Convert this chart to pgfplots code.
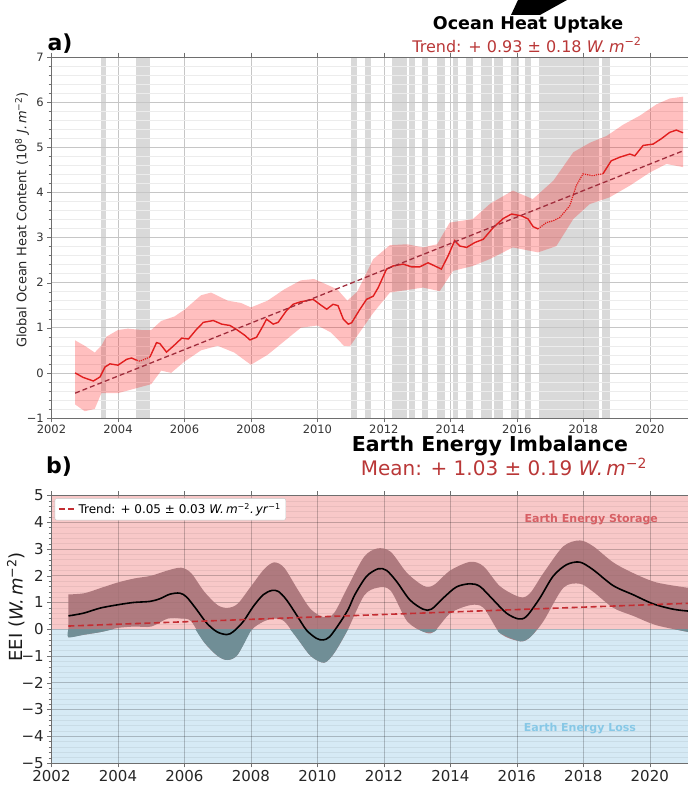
\documentclass[border=0pt]{standalone}
\usepackage{fontspec}
\setmainfont{DejaVu Sans}
\usepackage{pgfplots}
\pgfplotsset{compat=1.18}
\usepgfplotslibrary{fillbetween}
\definecolor{ohcred}{RGB}{225,30,30}
\definecolor{trendred}{RGB}{160,45,60}
\definecolor{eeitrend}{RGB}{195,45,50}
\definecolor{titlered}{RGB}{185,55,55}
\definecolor{storage}{RGB}{248,200,200}
\definecolor{loss}{RGB}{214,234,245}
\definecolor{bandup}{RGB}{165,112,117}
\definecolor{banddown}{RGB}{112,142,150}
\definecolor{spine}{RGB}{110,110,110}
\newcommand{\gap}[2]{\addplot[on layer=axis background, draw=none, fill=gray!30, forget plot] coordinates {(#1,-1) (#1,7) (#2,7) (#2,-1)} -- cycle;}
\newcommand{\wm}{\textit{W.\,m}\textsuperscript{−2}}
\begin{document}
\begin{tikzpicture}

% ---- panel a: ocean heat content
\begin{axis}[
    set layers,
    at={(51.5pt,367pt)}, anchor=south west, scale only axis,
    width=636.5pt, height=361pt,
    xmin=2002, xmax=2021.15, ymin=-1, ymax=7,
    xtick={2002,2004,...,2020}, ytick={-1,0,...,7},
    yticklabels={−1,0,1,2,3,4,5,6,7},
    minor x tick num=1, minor y tick num=4,
    grid=both,
    major grid style={gray!45, line width=0.5pt},
    minor grid style={gray!15, line width=0.4pt},
    tick align=outside, tick style={spine},
    axis line style={spine, line width=0.8pt},
    /pgf/number format/assume math mode=true,
    xticklabel style={/pgf/number format/1000 sep={}, yshift=1pt},
    tick label style={font=\fontsize{11.5}{12}\selectfont, text=black!80},
]
\gap{2003.49}{2003.64}
\gap{2004.54}{2004.96}
\gap{2011.01}{2011.19}
\gap{2011.43}{2011.61}
\gap{2012.24}{2012.69}
\gap{2012.75}{2012.93}
\gap{2013.14}{2013.33}
\gap{2013.59}{2013.83}
\gap{2014.07}{2014.23}
\gap{2014.47}{2014.68}
\gap{2014.92}{2015.25}
\gap{2015.31}{2015.58}
\gap{2015.82}{2016.06}
\gap{2016.24}{2016.42}
\gap{2016.66}{2018.47}
\gap{2018.56}{2018.79}

% uncertainty envelope (upper forward, lower backward)
\addplot[draw=none, fill=red, fill opacity=0.25, forget plot] coordinates {
 (2002.71,0.72) (2003.0,0.60) (2003.3,0.45) (2003.5,0.60) (2003.65,0.80)
 (2004.0,0.95) (2004.3,0.98) (2004.7,0.95) (2005.0,0.95) (2005.3,1.15)
 (2005.7,1.25) (2006.0,1.40) (2006.5,1.72) (2006.8,1.78) (2007.3,1.60)
 (2007.7,1.55) (2008.0,1.45) (2008.5,1.60) (2009.0,1.85) (2009.5,2.05)
 (2009.9,2.08) (2010.3,1.95) (2010.6,1.85) (2010.9,1.60) (2011.2,1.80)
 (2011.68,2.52) (2012.18,2.83) (2012.7,2.85) (2013.18,2.78) (2013.6,2.85)
 (2013.98,3.33) (2014.68,3.41) (2015.2,3.75) (2015.88,4.04) (2016.48,3.85)
 (2017.1,4.26) (2017.7,4.89) (2018.2,5.10) (2018.7,5.25) (2019.2,5.50)
 (2019.7,5.70) (2020.2,5.95) (2020.6,6.08) (2021.0,6.12)
 (2021.0,4.56) (2020.5,4.63) (2020.0,4.44) (2019.4,4.15) (2018.79,3.89)
 (2018.19,3.74) (2017.7,3.41) (2017.19,2.81) (2016.64,2.67) (2015.88,2.78)
 (2015.18,2.52) (2014.68,2.37) (2014.08,2.26) (2013.68,1.81) (2013.18,1.89)
 (2012.18,1.78) (2011.68,1.33) (2010.98,0.59) (2010.8,0.60) (2010.4,0.90)
 (2010.0,1.05) (2009.5,1.00) (2009.0,0.70) (2008.5,0.40) (2008.0,0.18)
 (2007.5,0.45) (2007.0,0.60) (2006.5,0.50) (2006.0,0.25) (2005.6,0.00)
 (2005.3,0.05) (2005.0,-0.25) (2004.5,-0.35) (2004.0,-0.45) (2003.5,-0.45)
 (2003.3,-0.80) (2003.0,-0.85) (2002.71,-0.70)
} -- cycle;

% dotted line through the gaps
\addplot[ohcred, densely dotted, line width=1.2pt, forget plot] coordinates {
 (2004.56,0.28) (2004.66,0.26) (2004.96,0.35)
};
\addplot[ohcred, densely dotted, line width=1.2pt, forget plot] coordinates {
 (2016.64,3.19) (2016.89,3.33) (2017.09,3.37) (2017.29,3.44) (2017.59,3.70)
 (2017.79,4.15) (2017.99,4.41) (2018.29,4.37) (2018.47,4.40) (2018.59,4.41)
};
% solid line where data exist
\addplot[ohcred, line width=1.4pt, unbounded coords=jump, forget plot] coordinates {
 (2002.71,0.00) (2002.95,-0.10) (2003.26,-0.18) (2003.46,-0.09) (2003.61,0.13)
 (2003.76,0.20) (2004.00,0.17) (2004.26,0.30) (2004.41,0.33) (2004.56,0.28)
 (2004.70,nan)
 (2004.96,0.35) (2005.16,0.67) (2005.26,0.65) (2005.46,0.46) (2005.66,0.59)
 (2005.92,0.77) (2006.12,0.75) (2006.37,0.97) (2006.57,1.12) (2006.87,1.16)
 (2007.12,1.08) (2007.37,1.05) (2007.57,0.96) (2007.82,0.83) (2007.97,0.73)
 (2008.17,0.79) (2008.37,1.05) (2008.47,1.19) (2008.67,1.08) (2008.82,1.12)
 (2009.07,1.38) (2009.27,1.52) (2009.47,1.57) (2009.87,1.63) (2010.07,1.52)
 (2010.28,1.41) (2010.47,1.52) (2010.62,1.49) (2010.78,1.19) (2010.93,1.08)
 (2011.03,1.11) (2011.28,1.41) (2011.48,1.63) (2011.68,1.70) (2011.83,1.89)
 (2012.08,2.30) (2012.28,2.37) (2012.58,2.41) (2012.83,2.35) (2013.08,2.35)
 (2013.33,2.44) (2013.53,2.37) (2013.73,2.30) (2013.93,2.59) (2014.13,2.93)
 (2014.29,2.81) (2014.49,2.78) (2014.74,2.89) (2014.99,2.96) (2015.29,3.22)
 (2015.59,3.42) (2015.84,3.52) (2016.14,3.48) (2016.34,3.41) (2016.49,3.24)
 (2016.64,3.19)
 (2017.50,nan)
 (2018.59,4.41) (2018.84,4.70) (2019.10,4.78) (2019.40,4.85) (2019.55,4.81)
 (2019.80,5.04) (2020.10,5.07) (2020.35,5.19) (2020.60,5.33) (2020.80,5.38)
 (2021.00,5.32)
};
% linear trend
\addplot[trendred, dash pattern=on 5pt off 3pt, line width=1.3pt, forget plot] coordinates {
 (2002.71,-0.45) (2021.0,4.92)
};
\end{axis}

% ---- panel b: earth energy imbalance
\begin{axis}[
    set layers,
    at={(51.5pt,22pt)}, anchor=south west, scale only axis,
    width=636.5pt, height=267.5pt,
    xmin=2002, xmax=2021.15, ymin=-5, ymax=5,
    xtick={2002,2004,...,2020}, ytick={-5,-4,...,5},
    yticklabels={−5,−4,−3,−2,−1,0,1,2,3,4,5},
    minor x tick num=1, minor y tick num=4,
    grid=both,
    major grid style={black, opacity=0.22, line width=0.5pt},
    minor grid style={black, opacity=0.06, line width=0.4pt},
    tick align=outside, tick style={spine},
    axis line style={spine, line width=0.8pt},
    /pgf/number format/assume math mode=true,
    xticklabel style={/pgf/number format/1000 sep={}},
    tick label style={font=\fontsize{15}{15}\selectfont, text=black!85},
    legend style={at={(0.005,0.99)}, anchor=north west, draw=gray!45,
        rounded corners=2pt, fill=white, font=\fontsize{12}{13}\selectfont,
        inner sep=3pt},
    legend cell align=left,
]
\addplot[on layer=axis background, draw=none, fill=storage, forget plot]
  coordinates {(2002,0) (2002,5) (2021.15,5) (2021.15,0)} -- cycle;
\addplot[on layer=axis background, draw=none, fill=loss, forget plot]
  coordinates {(2002,-5) (2002,0) (2021.15,0) (2021.15,-5)} -- cycle;

% uncertainty bounds of the EEI estimate
\addplot[name path=up, draw=none, smooth, tension=0.5, forget plot] coordinates {
 (2002.51,1.30) (2003.0,1.35) (2003.5,1.55) (2004.0,1.75) (2004.5,1.90)
 (2005.0,2.00) (2005.5,2.20) (2005.9,2.30) (2006.2,2.10) (2006.6,1.40)
 (2007.0,0.90) (2007.3,0.80) (2007.6,0.95) (2008.0,1.60) (2008.4,2.25)
 (2008.7,2.50) (2009.0,2.30) (2009.4,1.50) (2009.8,0.75) (2010.2,0.45)
 (2010.5,0.60) (2010.9,1.55) (2011.4,2.70) (2011.8,3.02) (2012.2,2.90)
 (2012.7,2.10) (2013.2,1.62) (2013.5,1.65) (2014.0,2.20) (2014.6,2.52)
 (2015.0,2.35) (2015.5,1.60) (2016.1,1.20) (2016.4,1.35) (2016.8,2.10)
 (2017.4,3.10) (2017.9,3.32) (2018.3,3.10) (2018.9,2.50) (2019.5,2.10)
 (2020.2,1.75) (2021.15,1.55)
};
\addplot[name path=lo, draw=none, smooth, tension=0.5, forget plot] coordinates {
 (2002.51,-0.30) (2003.0,-0.20) (2003.5,-0.10) (2004.0,0.05) (2004.5,0.10)
 (2005.0,0.10) (2005.5,0.40) (2005.9,0.40) (2006.2,0.30) (2006.6,-0.50)
 (2007.0,-1.00) (2007.3,-1.15) (2007.6,-0.95) (2008.0,-0.05) (2008.4,0.30)
 (2008.7,0.40) (2009.0,0.30) (2009.4,-0.35) (2009.8,-1.00) (2010.2,-1.25)
 (2010.5,-0.90) (2010.9,-0.05) (2011.4,1.25) (2011.8,1.55) (2012.2,1.45)
 (2012.7,0.30) (2013.2,-0.10) (2013.5,-0.10) (2014.0,0.60) (2014.6,0.90)
 (2015.0,0.80) (2015.5,-0.15) (2016.1,-0.45) (2016.4,-0.30) (2016.8,0.30)
 (2017.4,1.55) (2017.9,1.70) (2018.3,1.40) (2018.9,0.80) (2019.5,0.50)
 (2020.2,0.15) (2021.15,-0.10)
};
\addplot[fill=bandup, fill opacity=0.88, forget plot] fill between[of=up and lo];
% parts of the band below zero
\addplot[draw=none, fill=banddown, smooth, tension=0.5, forget plot] coordinates {
 (2002.51,0) (2002.51,-0.30) (2003.0,-0.20) (2003.5,-0.10) (2003.85,0)} -- cycle;
\addplot[draw=none, fill=banddown, smooth, tension=0.5, forget plot] coordinates {
 (2006.33,0) (2006.6,-0.50) (2007.0,-1.00) (2007.3,-1.15) (2007.6,-0.95)
 (2008.0,-0.05) (2008.06,0)} -- cycle;
\addplot[draw=none, fill=banddown, smooth, tension=0.5, forget plot] coordinates {
 (2009.18,0) (2009.4,-0.35) (2009.8,-1.00) (2010.2,-1.25) (2010.5,-0.90)
 (2010.9,-0.05) (2010.93,0)} -- cycle;
\addplot[draw=none, fill=banddown, smooth, tension=0.5, forget plot] coordinates {
 (2013.05,0) (2013.2,-0.10) (2013.5,-0.10) (2013.6,0)} -- cycle;
\addplot[draw=none, fill=banddown, smooth, tension=0.5, forget plot] coordinates {
 (2015.42,0) (2015.5,-0.15) (2016.1,-0.45) (2016.4,-0.30) (2016.6,0)} -- cycle;
\addplot[draw=none, fill=banddown, forget plot] coordinates {
 (2020.75,0) (2021.15,-0.10) (2021.15,0)} -- cycle;

\addplot[black, line width=1.6pt, smooth, tension=0.5, forget plot] coordinates {
 (2002.51,0.50) (2002.96,0.60) (2003.46,0.79) (2003.97,0.91) (2004.46,1.00)
 (2004.96,1.04) (2005.26,1.14) (2005.56,1.31) (2005.86,1.35) (2006.07,1.20)
 (2006.37,0.73) (2006.67,0.23) (2006.97,-0.09) (2007.27,-0.20) (2007.47,-0.09)
 (2007.77,0.29) (2008.07,0.85) (2008.37,1.29) (2008.63,1.45) (2008.83,1.41)
 (2009.07,1.10) (2009.37,0.54) (2009.67,-0.03) (2009.97,-0.34) (2010.17,-0.40)
 (2010.37,-0.28) (2010.68,0.25) (2010.93,0.75) (2011.13,1.30) (2011.48,1.98)
 (2011.83,2.26) (2012.08,2.20) (2012.38,1.79) (2012.78,1.10) (2013.18,0.75)
 (2013.43,0.75) (2013.78,1.16) (2014.18,1.58) (2014.59,1.70) (2014.89,1.60)
 (2015.29,1.10) (2015.69,0.60) (2016.04,0.39) (2016.29,0.48) (2016.69,1.16)
 (2017.09,1.98) (2017.49,2.41) (2017.89,2.51) (2018.29,2.23) (2018.90,1.63)
 (2019.50,1.29) (2020.10,0.95) (2020.70,0.75) (2021.15,0.68)
};
\addplot[eeitrend, dash pattern=on 6pt off 3.5pt, line width=1.6pt] coordinates {
 (2002.51,0.12) (2021.15,0.97)
};
\addlegendentry{Trend: + 0.05 ± 0.03 \textit{W.\,m}\textsuperscript{−2}\textit{.\,yr}\textsuperscript{−1}}

\node[text={rgb,255:red,215;green,95;blue,100}, font=\fontsize{11}{11}\selectfont\bfseries]
  at (axis cs:2018.24,4.12) {Earth Energy Storage};
\node[text={rgb,255:red,135;green,200;blue,230}, font=\fontsize{11}{11}\selectfont\bfseries]
  at (axis cs:2017.9,-3.7) {Earth Energy Loss};
\end{axis}

% ---- titles and labels
\fill[black] (518pt,785pt) -- (567pt,785pt) -- (540pt,770pt) -- (511pt,770pt) -- cycle;
\node[font=\fontsize{22}{22}\selectfont\bfseries] at (60pt,741.5pt) {a)};
\node[font=\fontsize{17.5}{18}\selectfont\bfseries, inner sep=0pt] at (528pt,760pt) {Ocean Heat Uptake};
\node[text=titlered, font=\fontsize{16}{17}\selectfont, inner sep=0pt] at (527pt,740pt) {Trend: + 0.93 ± 0.18 \wm};
\node[rotate=90, font=\fontsize{13}{13}\selectfont, text=black!85] at (22pt,565pt)
  {Global Ocean Heat Content (10\textsuperscript{8} \textit{J.\,m}\textsuperscript{−2})};
\node[font=\fontsize{20.5}{21}\selectfont\bfseries, inner sep=0pt] at (490pt,339pt) {Earth Energy Imbalance};
\node[text=titlered, font=\fontsize{20}{21}\selectfont, inner sep=0pt] at (504pt,318pt) {Mean: + 1.03 ± 0.19 \wm};
\node[font=\fontsize{22}{22}\selectfont\bfseries] at (59pt,318pt) {b)};
\node[rotate=90, font=\fontsize{18}{18}\selectfont, text=black!90] at (16pt,178pt)
  {EEI (\wm)};

\pgfresetboundingbox
\path[use as bounding box] (0,0) rectangle (688pt,785pt);
\end{tikzpicture}
\end{document}
